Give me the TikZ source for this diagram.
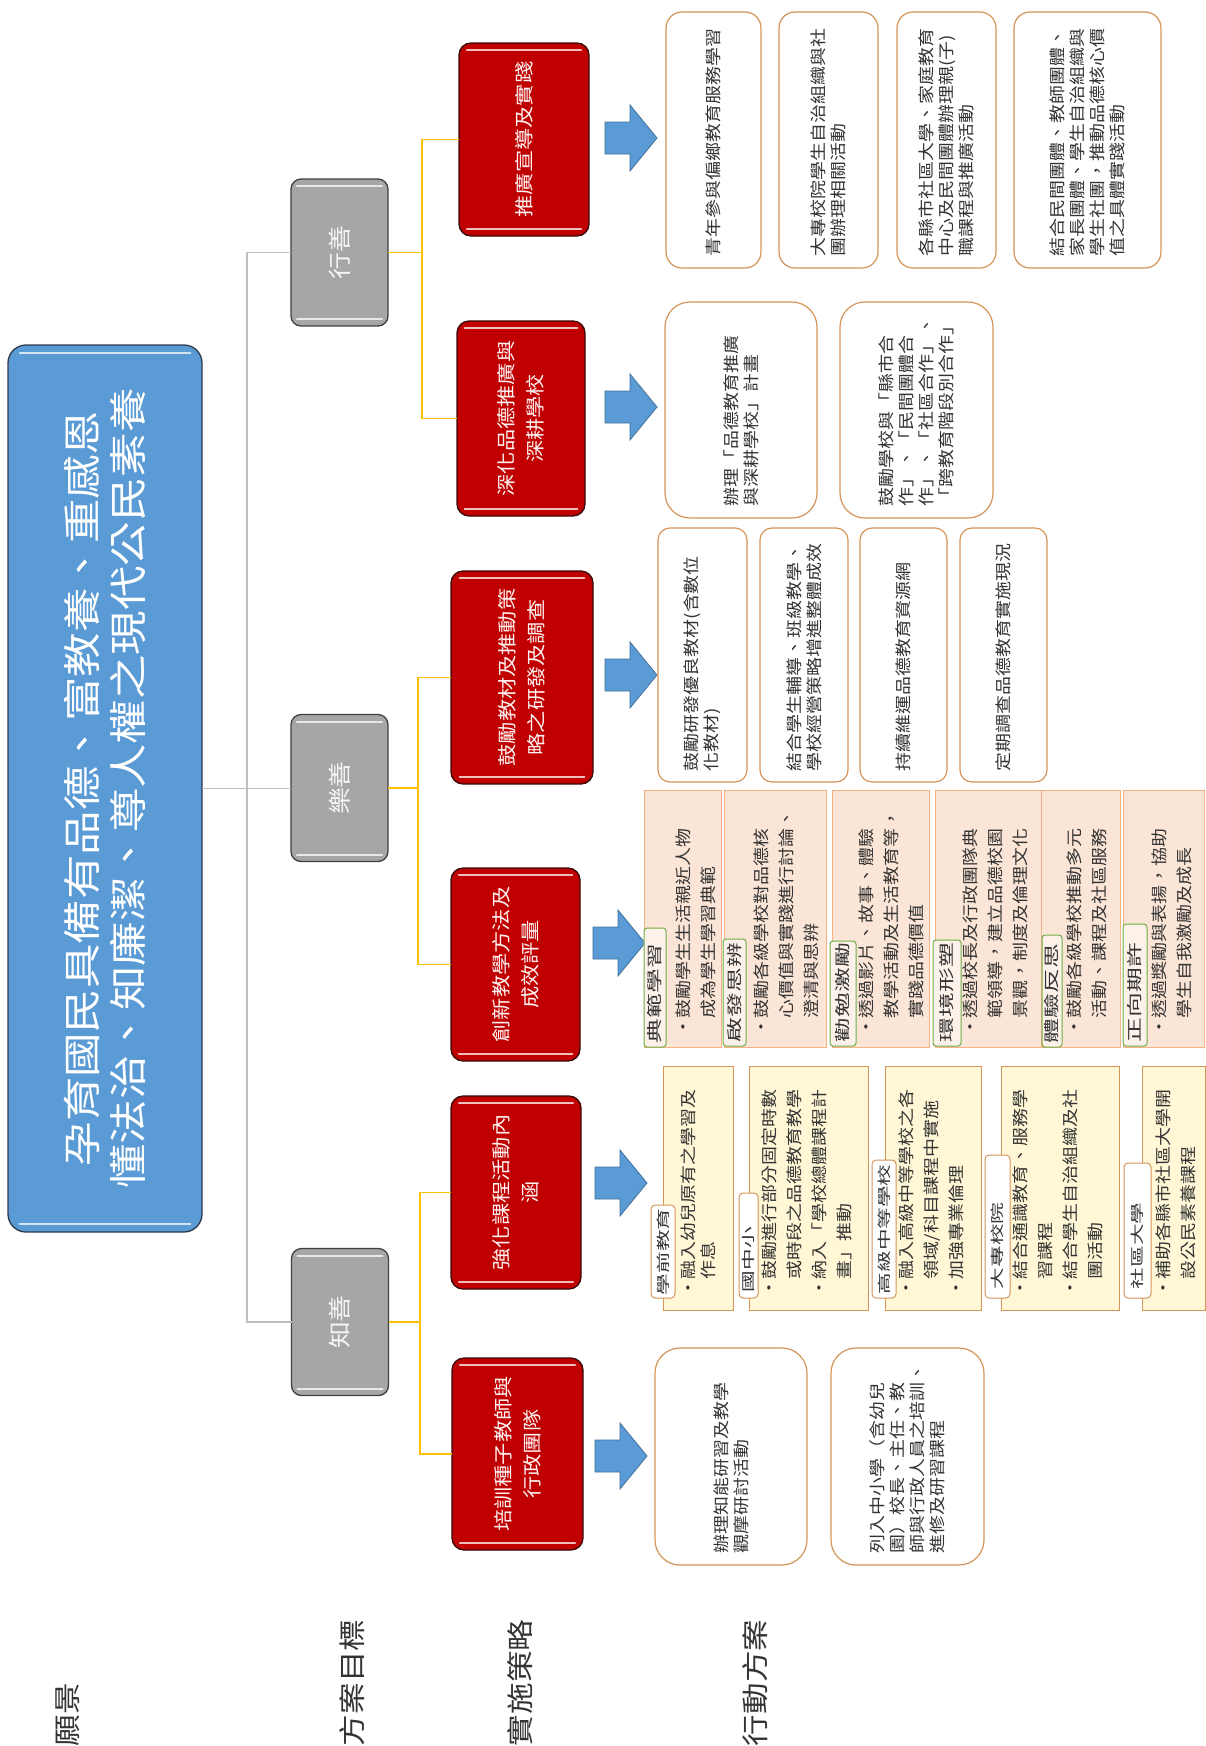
\documentclass[tikz,border=0pt]{standalone}
\usepackage{fontspec}
\setmainfont{Noto Sans CJK TC}[FakeStretch=1.17]
\newfontfamily\tagfont{Noto Sans CJK TC}[FakeStretch=1.6]
\usetikzlibrary{calc}
\definecolor{titleblue}{HTML}{5B9BD5}
\definecolor{titleedge}{HTML}{2E3B4E}
\definecolor{redfill}{HTML}{C00000}
\definecolor{rededge}{HTML}{3A0A0A}
\definecolor{grayfill}{HTML}{A6A6A6}
\definecolor{grayedge}{HTML}{404040}
\definecolor{glinec}{HTML}{BFBFBF}
\definecolor{ylinec}{HTML}{FFC000}
\definecolor{arrowfill}{HTML}{5B9BD5}
\definecolor{arrowedge}{HTML}{41719C}
\definecolor{oborder}{HTML}{D4955A}
\definecolor{pinkfill}{HTML}{FBE5D6}
\definecolor{pinkedge}{HTML}{F4B183}
\definecolor{greenedge}{HTML}{70AD47}
\definecolor{yellowfill}{HTML}{FFF7D6}
\definecolor{txt}{HTML}{333333}
\newcommand\mybul{\makebox[18pt][l]{•}}
\newcommand\myind{\hspace*{18pt}}
\newcommand\gloss[2]{%
  \draw[glossline] ($(#1.north east)!0.06!(#1.south east)+(0,#2)$) -- ($(#1.north east)!0.94!(#1.south east)+(0,#2)$);
  \draw[glossline] ($(#1.north west)!0.06!(#1.south west)+(0,-#2)$) -- ($(#1.north west)!0.94!(#1.south west)+(0,-#2)$);
}
\newcommand\blockarrow[1]{%
  \draw[barrow] (#1) ++(-52,-16) -- ++(25,0) -- ++(0,-17) -- ++(27,33) -- ++(-27,33) -- ++(0,-17) -- ++(-25,0) -- cycle;
}
\begin{document}
\begin{tikzpicture}[x=1pt,y=-1pt,
  every node/.style={rotate=90, inner sep=0pt, outer sep=0pt},
  titlebox/.style={draw=titleedge, line width=1.3pt, fill=titleblue, rounded corners=18pt, text=white, align=center, font=\fontsize{38}{46}\selectfont},
  goal/.style={draw=grayedge, line width=1.3pt, fill=grayfill, rounded corners=10pt, text=white!92!gray, font=\fontsize{23}{28}\selectfont, minimum width=147pt, minimum height=97pt},
  strat/.style={draw=rededge, line width=1.3pt, fill=redfill, rounded corners=12pt, text=white!95!red, align=center, font=\fontsize{19}{29}\selectfont},
  act/.style={draw=oborder, line width=1.2pt, fill=white, text=txt, align=left, font=\fontsize{16.2}{20}\selectfont},
  pinkcol/.style={draw=pinkedge, line width=0.8pt, fill=pinkfill},
  yelbox/.style={draw=oborder, line width=1pt, fill=yellowfill},
  gtag/.style={draw=greenedge, line width=1pt, fill=pinkfill!50!white, rounded corners=3pt, text=txt, align=left, font=\tagfont\fontsize{15.5}{18}\selectfont},
  otag/.style={draw=oborder, line width=1pt, fill=white, rounded corners=4pt, text=txt, align=left, font=\tagfont\fontsize{13.5}{16}\selectfont},
  btext/.style={anchor=north west, align=left, text=txt, text width=236pt, font=\fontsize{16.2}{25}\selectfont},
  lvl/.style={anchor=west, text=txt, font=\fontsize{27}{32}\selectfont},
  gline/.style={glinec, line width=1.5pt},
  yline/.style={ylinec, line width=1.5pt},
  glossline/.style={white, line width=2pt, opacity=0.75, line cap=round},
  barrow/.style={fill=arrowfill, draw=arrowedge, line width=0.8pt}
]
\fill[white] (0,0) rectangle (1206,1746);
\useasboundingbox (0,0) rectangle (1206,1746);

% vision
\node[titlebox, minimum width=887pt, minimum height=194pt] (title) at (105,788.5) {孕育國民具備有品德、富教養、重感恩\\懂法治、知廉潔、尊人權之現代公民素養};
\gloss{title}{8}

% goals
\node[goal] (g1) at (339.5,252.5) {行善};
\node[goal] (g2) at (339.5,788) {樂善};
\node[goal] (g3) at (340,1322) {知善};
\gloss{g1}{7}\gloss{g2}{7}\gloss{g3}{7}

% strategies
\node[strat, minimum width=193pt, minimum height=130pt] (r1) at (524,139.5) {推廣宣導及實踐};
\node[strat, minimum width=195pt, minimum height=128pt] (r2) at (521,418.5) {深化品德推廣與\\深耕學校};
\node[strat, minimum width=213pt, minimum height=142pt] (r3) at (522,677.5) {鼓勵教材及推動策\\略之研發及調查};
\node[strat, minimum width=193pt, minimum height=129pt] (r4) at (515.5,964.5) {創新教學方法及\\成效評量};
\node[strat, minimum width=193pt, minimum height=130pt] (r5) at (516,1192.5) {強化課程活動內\\涵};
\node[strat, minimum width=192pt, minimum height=131pt] (r6) at (517.5,1454) {培訓種子教師與\\行政團隊};
\gloss{r1}{7}\gloss{r2}{7}\gloss{r3}{7}\gloss{r4}{7}\gloss{r5}{7}\gloss{r6}{7}

% connectors
\coordinate (gbus) at (247,0);
\draw[gline] (title.south) -- (title.south -| g2.north);
\draw[gline] (g1.north) -- (g1.north -| gbus) -- (g3.north -| gbus) -- (g3.north);
\coordinate (yb1) at (422,0);
\coordinate (yb2) at (418,0);
\coordinate (yb3) at (420,0);
\draw[yline] (g1.south) -- (g1.south -| yb1);
\draw[yline] (r1.north) -- (r1.north -| yb1) -- (r2.north -| yb1) -- (r2.north);
\draw[yline] (g2.south) -- (g2.south -| yb2);
\draw[yline] (r3.north) -- (r3.north -| yb2) -- (r4.north -| yb2) -- (r4.north);
\draw[yline] (g3.south) -- (g3.south -| yb3);
\draw[yline] (r5.north) -- (r5.north -| yb3) -- (r6.north -| yb3) -- (r6.north);

% block arrows
\coordinate (ar1) at (657,138);
\coordinate (ar2) at (657,407);
\coordinate (ar3) at (657,675);
\coordinate (ar4) at (645,943);
\coordinate (ar5) at (647,1183);
\coordinate (ar6) at (647,1456);
\blockarrow{ar1}\blockarrow{ar2}\blockarrow{ar3}\blockarrow{ar4}\blockarrow{ar5}\blockarrow{ar6}

% actions: 推廣宣導及實踐
\node[act, rounded corners=16pt, minimum width=256pt, minimum height=95pt, text width=232pt] (a11) at (713.5,140) {青年參與偏鄉教育服務學習};
\node[act, rounded corners=16pt, minimum width=256pt, minimum height=99pt, text width=232pt] (a12) at (828.5,140) {大專校院學生自治組織與社\\團辦理相關活動};
\node[act, rounded corners=16pt, minimum width=256pt, minimum height=99pt, text width=232pt] (a13) at (946.5,140) {各縣市社區大學、家庭教育\\中心及民間團體辦理親(子)\\職課程與推廣活動};
\node[act, rounded corners=16pt, minimum width=256pt, minimum height=147pt, text width=232pt] (a14) at (1087.5,140) {結合民間團體、教師團體、\\家長團體、學生自治組織與\\學生社團，推動品德核心價\\值之具體實踐活動};

% actions: 深化品德推廣與深耕學校
\node[act, rounded corners=25pt, minimum width=216pt, minimum height=152pt, text width=192pt] (a21) at (741,410) {辦理「品德教育推廣\\與深耕學校」計畫};
\node[act, rounded corners=25pt, minimum width=216pt, minimum height=153pt, text width=192pt] (a22) at (916.5,410) {鼓勵學校與「縣市合\\作」、「民間團體合\\作」、「社區合作」、\\「跨教育階段別合作」};

% actions: 鼓勵教材
\node[act, rounded corners=12pt, minimum width=254pt, minimum height=89pt, text width=232pt] (a31) at (702.5,655) {鼓勵研發優良教材(含數位\\化教材)};
\node[act, rounded corners=12pt, minimum width=254pt, minimum height=88pt, text width=232pt] (a32) at (804,655) {結合學生輔導、班級教學、\\學校經營策略增進整體成效};
\node[act, rounded corners=12pt, minimum width=254pt, minimum height=87pt, text width=232pt] (a33) at (903.5,655) {持續維運品德教育資源網};
\node[act, rounded corners=12pt, minimum width=254pt, minimum height=87pt, text width=232pt] (a34) at (1003.5,655) {定期調查品德教育實施現況};

% actions: 創新教學方法
\node[pinkcol, minimum width=257pt, minimum height=77pt] (p1) at (682.5,918.5) {};
\node[pinkcol, minimum width=257pt, minimum height=102pt] (p2) at (775,918.5) {};
\node[pinkcol, minimum width=257pt, minimum height=97pt] (p3) at (880.5,918.5) {};
\node[pinkcol, minimum width=257pt, minimum height=106pt] (p4) at (988,918.5) {};
\node[pinkcol, minimum width=257pt, minimum height=79pt] (p5) at (1080.5,918.5) {};
\node[pinkcol, minimum width=257pt, minimum height=81pt] (p6) at (1163.5,918.5) {};
\node[gtag, minimum width=119pt, minimum height=22pt, text width=111pt] (t1) at (655,987.5) {典範學習};
\node[gtag, minimum width=107pt, minimum height=23pt, text width=99pt] (t2) at (734.5,992.5) {啟發思辨};
\node[gtag, minimum width=105pt, minimum height=26pt, text width=97pt] (t3) at (843,993.5) {勸勉激勵};
\node[gtag, minimum width=106pt, minimum height=28pt, text width=98pt] (t4) at (947,993) {環境形塑};
\node[gtag, minimum width=112pt, minimum height=20pt, text width=104pt] (t5) at (1052,991) {體驗反思};
\node[gtag, minimum width=122pt, minimum height=24pt, text width=114pt] (t6) at (1135,985) {正向期許};
\node[btext] (q1) at (676,1036) {\mybul 鼓勵學生生活親近人物\\\myind 成為學生學習典範};
\node[btext] (q2) at (754,1036) {\mybul 鼓勵各級學校對品德核\\\myind 心價值與實踐進行討論、\\\myind 澄清與思辨};
\node[btext] (q3) at (859,1036) {\mybul 透過影片、故事、體驗\\\myind 教學活動及生活教育等，\\\myind 實踐品德價值};
\node[btext] (q4) at (963,1036) {\mybul 透過校長及行政團隊典\\\myind 範領導，建立品德校園\\\myind 景觀，制度及倫理文化};
\node[btext] (q5) at (1067,1036) {\mybul 鼓勵各級學校推動多元\\\myind 活動、課程及社區服務};
\node[btext] (q6) at (1152,1036) {\mybul 透過獎勵與表揚，協助\\\myind 學生自我激勵及成長};

% actions: 強化課程活動內涵
\node[yelbox, minimum width=244pt, minimum height=70pt] (y1) at (698,1188) {};
\node[yelbox, minimum width=244pt, minimum height=119pt] (y2) at (808.5,1188) {};
\node[yelbox, minimum width=244pt, minimum height=96pt] (y3) at (933,1188) {};
\node[yelbox, minimum width=244pt, minimum height=118pt] (y4) at (1060,1188) {};
\node[yelbox, minimum width=244pt, minimum height=63pt] (y5) at (1173.5,1188) {};
\node[otag, minimum width=93pt, minimum height=24pt, text width=87pt] (o1) at (663,1251.5) {學前教育};
\node[otag, minimum width=105pt, minimum height=19pt, text width=93pt] (o2) at (748.5,1245.5) {國中小};
\node[otag, minimum width=138pt, minimum height=24pt, text width=130pt] (o3) at (884,1229) {高級中等學校};
\node[otag, minimum width=143pt, minimum height=25pt, text width=125pt] (o4) at (997.5,1226.5) {大專校院};
\node[otag, minimum width=135pt, minimum height=27pt, text width=117pt] (o5) at (1137.5,1230.5) {社區大學};
\node[btext, font=\fontsize{16.2}{20}\selectfont] (c1) at (681,1297) {\mybul 融入幼兒原有之學習及\\\myind 作息};
\node[btext] (c2) at (762,1297) {\mybul 鼓勵進行部分固定時數\\\myind 或時段之品德教育教學\\\mybul 納入「學校總體課程計\\\myind 畫」推動};
\node[btext] (c3) at (899,1297) {\mybul 融入高級中等學校之各\\\myind 領域/科目課程中實施\\\mybul 加強專業倫理};
\node[btext] (c4) at (1013,1297) {\mybul 結合通識教育、服務學\\\myind 習課程\\\mybul 結合學生自治組織及社\\\myind 團活動};
\node[btext] (c5) at (1156,1297) {\mybul 補助各縣市社區大學開\\\myind 設公民素養課程};

% actions: 培訓種子教師與行政團隊
\node[act, rounded corners=25pt, minimum width=217pt, minimum height=152pt, text width=193pt] (a61) at (731,1456.5) {辦理知能研習及教學\\觀摩研討活動};
\node[act, rounded corners=25pt, minimum width=217pt, minimum height=153pt, text width=193pt] (a62) at (907.5,1456.5) {列入中小學（含幼兒\\園）校長、主任、教\\師與行政人員之培訓、\\進修及研習課程};

% level labels
\node[lvl] (l1) at (68,1746) {願景};
\node[lvl] (l2) at (352,1746) {方案目標};
\node[lvl] (l3) at (520,1746) {實施策略};
\node[lvl] (l4) at (755,1746) {行動方案};
\end{tikzpicture}
\end{document}
